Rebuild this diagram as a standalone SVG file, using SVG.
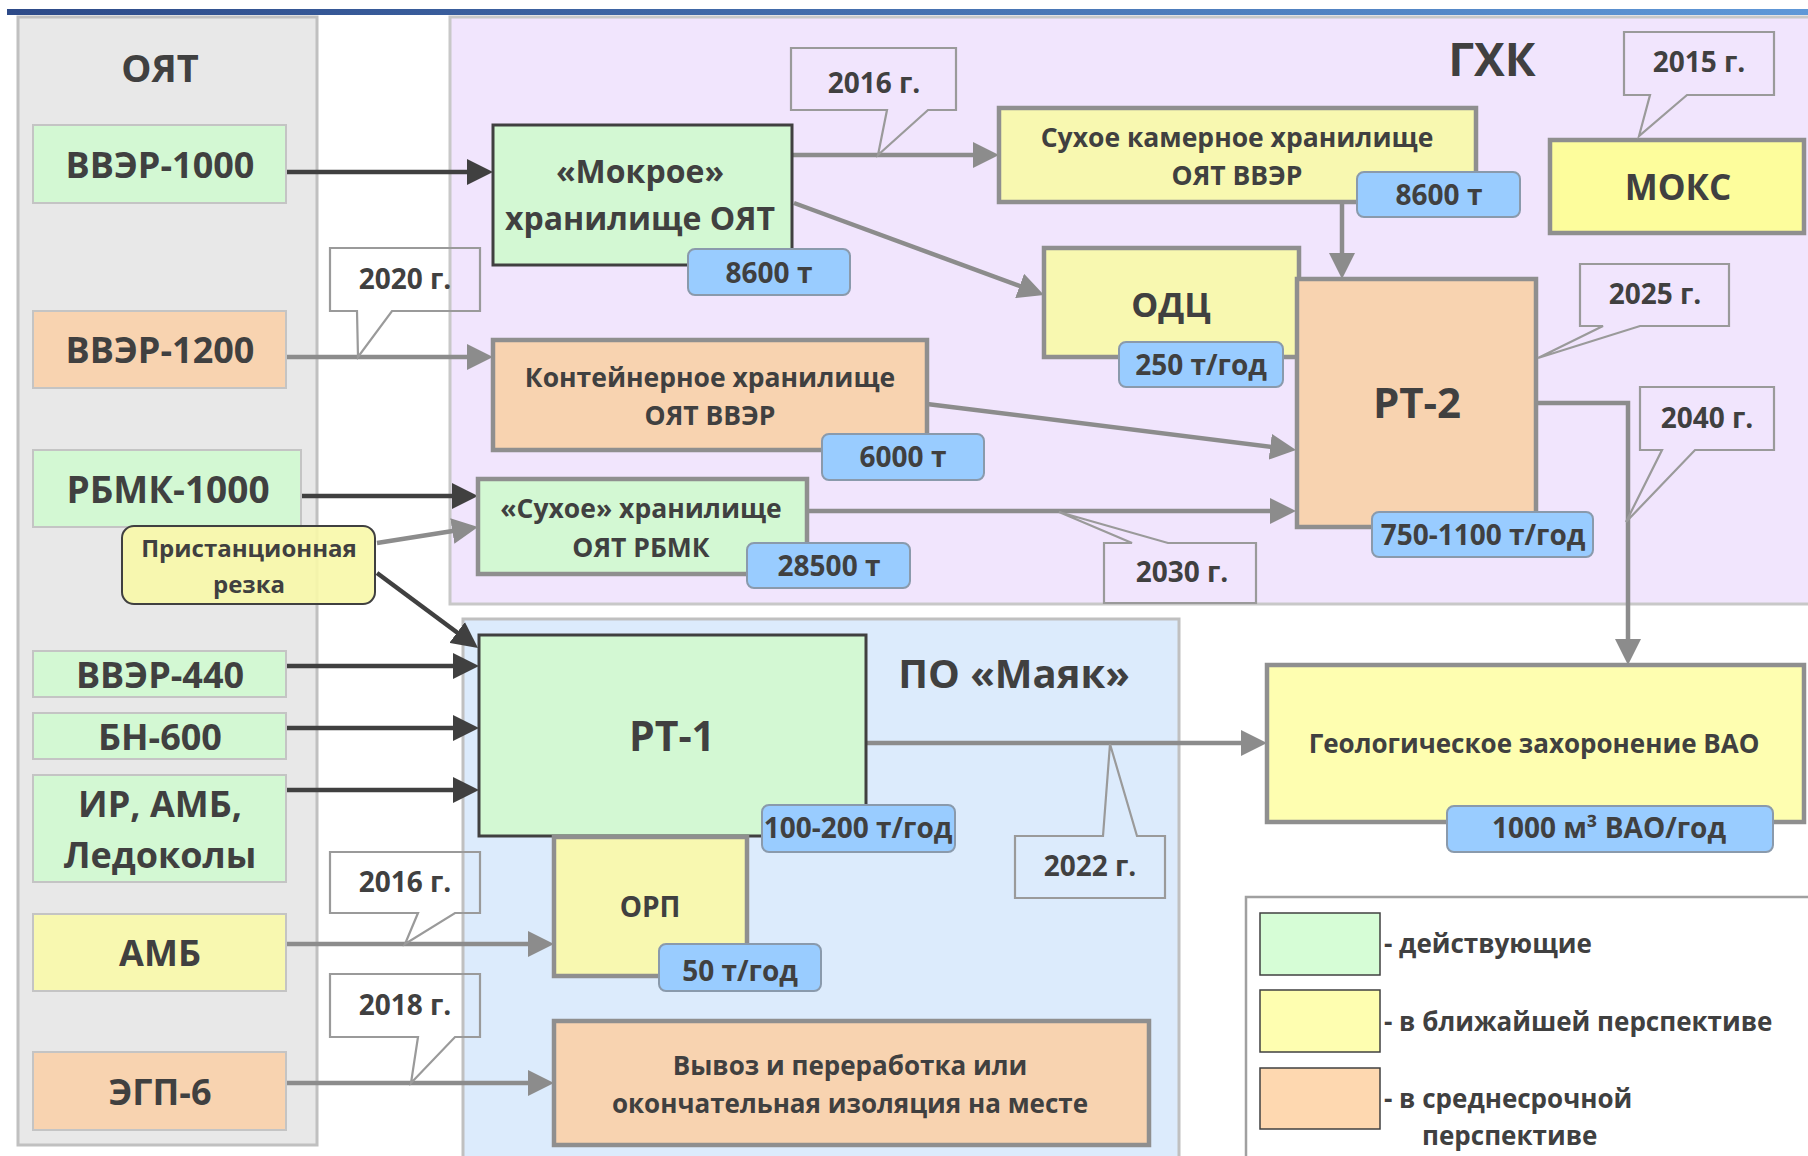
<svg xmlns="http://www.w3.org/2000/svg" width="1808" height="1156" viewBox="0 0 1808 1156">
<defs>
<linearGradient id="bar" x1="0" y1="0" x2="1" y2="0"><stop offset="0" stop-color="#2d4a88"/><stop offset="1" stop-color="#5f98d8"/></linearGradient>
<marker id="ad" markerUnits="userSpaceOnUse" markerWidth="26" markerHeight="26" refX="18" refY="13" orient="auto" viewBox="0 0 26 26"><path d="M0,0 L26,13 L0,26 z" fill="#404040"/></marker>
<marker id="ag" markerUnits="userSpaceOnUse" markerWidth="26" markerHeight="26" refX="18" refY="13" orient="auto" viewBox="0 0 26 26"><path d="M0,0 L26,13 L0,26 z" fill="#8c8c8c"/></marker>
<style>
text{font-family:"Open Sans","Noto Sans","DejaVu Sans",sans-serif;font-weight:700;fill:#404040;text-anchor:middle}
.src{stroke:#c4c4c4;stroke-width:2}
.gr{fill:#d3f8d3}.ye{fill:#f8f8b0}.pe{fill:#f8d3b0}.yb{fill:#fdfd9c}
.nd{stroke:#8f8f8f;stroke-width:4.5}
.dk{stroke:#404040;stroke-width:3}
.bd{fill:#99ccff;stroke:#8a9aac;stroke-width:2}
.cd{fill:none;stroke:#404040;stroke-width:4.5}
.cg{fill:none;stroke:#8c8c8c;stroke-width:4.5}
.co{fill:none;stroke:#9a9a9a;stroke-width:2.2}
.t36{font-size:36px}.t27{font-size:26.5px}.t26{font-size:26px}.t28{font-size:28px}
</style>
</defs>
<rect x="0" y="0" width="1808" height="1156" fill="#ffffff"/>
<rect x="7" y="9" width="1801" height="6" fill="url(#bar)"/>

<g id="panels">
<rect id="panel-oyat" x="18" y="17" width="299" height="1128" fill="#e8e8e8" stroke="#c0c0c0" stroke-width="3"/>
<text x="160" y="82" style="font-size:38px">ОЯТ</text>
<rect id="panel-ghk" x="450" y="17" width="1370" height="587" fill="#f1e5fd" stroke="#c8c8c8" stroke-width="3"/>
<text x="1492" y="76" style="font-size:46px">ГХК</text>
<rect id="panel-mayak" x="463" y="619" width="716" height="545" fill="#dcebfc" stroke="#c0c0c0" stroke-width="3"/>
<text x="1014" y="688" style="font-size:40px">ПО «Маяк»</text>
</g>

<g id="connectors">
<path class="cd" d="M286,172 H485" marker-end="url(#ad)"/>
<path class="cg" d="M286,357 H485" marker-end="url(#ag)"/>
<path class="cd" d="M301,496 H470" marker-end="url(#ad)"/>
<path class="cg" d="M377,543 L470.1,528.2" marker-end="url(#ag)"/>
<path class="cd" d="M377,573 L471.6,643.2" marker-end="url(#ad)"/>
<path class="cd" d="M286,666 H471" marker-end="url(#ad)"/>
<path class="cd" d="M286,728 H471" marker-end="url(#ad)"/>
<path class="cd" d="M286,790 H471" marker-end="url(#ad)"/>
<path class="cg" d="M286,944 H546" marker-end="url(#ag)"/>
<path class="cg" d="M286,1083 H546" marker-end="url(#ag)"/>
<path class="cg" d="M792,155 H991" marker-end="url(#ag)"/>
<path class="cg" d="M794,203 L1036.5,292.2" marker-end="url(#ag)"/>
<path class="cg" d="M1342,202 V271" marker-end="url(#ag)"/>
<path class="cg" d="M927,404 L1288.1,449" marker-end="url(#ag)"/>
<path class="cg" d="M807,511 H1288" marker-end="url(#ag)"/>
<path class="cg" d="M1536,403 H1628 V657" marker-end="url(#ag)"/>
<path class="cg" d="M866,743 H1259" marker-end="url(#ag)"/>
</g>

<g id="n-vver1000"><rect class="gr src" x="33" y="125" width="253" height="78"/><text class="t36" x="160" y="178">ВВЭР-1000</text></g>
<g id="n-vver1200"><rect class="pe src" x="33" y="311" width="253" height="77"/><text class="t36" x="160" y="363">ВВЭР-1200</text></g>
<g id="n-rbmk"><rect class="gr src" x="33" y="450" width="268" height="77"/><text x="168" y="503" style="font-size:37px">РБМК-1000</text></g>
<g id="n-rezka"><rect x="122" y="526" width="253" height="78" rx="12" fill="#f8f8a8" fill-opacity="0.9" stroke="#404040" stroke-width="2"/><text x="249" y="557" style="font-size:24px">Пристанционная</text><text x="249" y="593" style="font-size:24px">резка</text></g>
<g id="n-vver440"><rect class="gr src" x="33" y="651" width="253" height="46"/><text class="t36" x="160" y="688">ВВЭР-440</text></g>
<g id="n-bn600"><rect class="gr src" x="33" y="713" width="253" height="46"/><text class="t36" x="160" y="750">БН-600</text></g>
<g id="n-ir"><rect class="gr src" x="33" y="775" width="253" height="107"/><text class="t36" x="160" y="817">ИР, АМБ,</text><text class="t36" x="160" y="868">Ледоколы</text></g>
<g id="n-amb"><rect class="ye src" x="33" y="914" width="253" height="77"/><text class="t36" x="160" y="966">АМБ</text></g>
<g id="n-egp"><rect class="pe src" x="33" y="1052" width="253" height="78"/><text class="t36" x="160" y="1105">ЭГП-6</text></g>

<g id="n-mokroe"><rect class="gr dk" x="493" y="125" width="299" height="140"/><text x="640" y="183" style="font-size:32px">«Мокрое»</text><text x="640" y="230" style="font-size:32px">хранилище ОЯТ</text><rect class="bd" x="688" y="249" width="162" height="46" rx="7"/><text class="t28" x="769" y="283">8600 т</text></g>
<g id="n-suhoe-kam"><rect class="ye nd" x="999" y="108" width="477" height="94"/><text class="t27" x="1237" y="147">Сухое камерное хранилище</text><text class="t27" x="1237" y="185">ОЯТ ВВЭР</text><rect class="bd" x="1357" y="172" width="163" height="45" rx="7"/><text class="t28" x="1439" y="205">8600 т</text></g>
<g id="n-moks"><rect class="yb nd" x="1550" y="140" width="254" height="93"/><text x="1678" y="200" style="font-size:35px">МОКС</text></g>
<g id="n-odc"><rect class="ye nd" x="1044" y="248" width="255" height="109"/><text x="1171" y="317" style="font-size:34px">ОДЦ</text><rect class="bd" x="1119" y="342" width="164" height="45" rx="7"/><text class="t28" x="1201" y="375">250 т/год</text></g>
<g id="n-rt2"><rect class="pe nd" x="1297" y="279" width="239" height="248"/><text x="1417" y="418" style="font-size:42px">РТ-2</text><rect class="bd" x="1372" y="512" width="221" height="45" rx="7"/><text class="t28" x="1483" y="545">750-1100 т/год</text></g>
<g id="n-kont"><rect class="pe nd" x="493" y="340" width="434" height="110"/><text class="t27" x="710" y="387">Контейнерное хранилище</text><text class="t27" x="710" y="425">ОЯТ ВВЭР</text><rect class="bd" x="822" y="434" width="162" height="46" rx="7"/><text class="t28" x="903" y="467">6000 т</text></g>
<g id="n-suhoe-rbmk"><rect class="gr nd" x="478" y="479" width="329" height="95"/><text class="t27" x="641" y="518">«Сухое» хранилище</text><text class="t27" x="641" y="557">ОЯТ РБМК</text><rect class="bd" x="747" y="543" width="163" height="45" rx="7"/><text class="t28" x="829" y="576">28500 т</text></g>

<g id="n-rt1"><rect class="gr dk" x="479" y="635" width="387" height="201"/><text x="672" y="751" style="font-size:41px">РТ-1</text><rect class="bd" x="762" y="805" width="193" height="47" rx="7"/><text class="t28" x="858" y="838">100-200 т/год</text></g>
<g id="n-orp"><rect class="ye nd" x="554" y="837" width="193" height="139"/><text class="t28" x="650" y="917">ОРП</text><rect class="bd" x="659" y="944" width="162" height="47" rx="7"/><text class="t28" x="740" y="981">50 т/год</text></g>
<g id="n-vyvoz"><rect class="pe nd" x="554" y="1021" width="595" height="124"/><text class="t26" x="850" y="1075">Вывоз и переработка или</text><text class="t26" x="850" y="1113">окончательная изоляция на месте</text></g>
<g id="n-geo"><rect class="nd" x="1267" y="665" width="537" height="157" style="fill:#fefeb0"/><text class="t26" x="1534" y="753">Геологическое захоронение ВАО</text><rect class="bd" x="1447" y="806" width="326" height="46" rx="7"/><text class="t28" x="1609" y="838">1000 м³ ВАО/год</text></g>

<g id="callouts">
<path class="co" d="M791,48 H956 V110 H928 L878,155 L887,110 H791 Z"/><text class="t28" x="874" y="93">2016 г.</text>
<path class="co" d="M330,248 H480 V311 H392 L358,357 L357,311 H330 Z"/><text class="t28" x="405" y="289">2020 г.</text>
<path class="co" d="M1624,32 H1774 V95 H1687 L1639,136 L1650,95 H1624 Z"/><text class="t28" x="1699" y="72">2015 г.</text>
<path class="co" d="M1580,264 H1729 V326 H1640 L1538,358 L1603,326 H1580 Z"/><text class="t28" x="1655" y="304">2025 г.</text>
<path class="co" d="M1640,387 H1774 V450 H1695 L1626,522 L1662,450 H1640 Z"/><text class="t28" x="1707" y="428">2040 г.</text>
<path class="co" d="M1104,543 H1132 L1059,512 L1168,543 H1256 V603 H1104 Z"/><text class="t28" x="1182" y="582">2030 г.</text>
<path class="co" d="M1015,836 H1103 L1110,744 L1137,836 H1165 V898 H1015 Z"/><text class="t28" x="1090" y="876">2022 г.</text>
<path class="co" d="M330,852 H480 V913 H455 L405,944 L418,913 H330 Z"/><text class="t28" x="405" y="892">2016 г.</text>
<path class="co" d="M330,974 H480 V1037 H455 L411,1083 L418,1037 H330 Z"/><text class="t28" x="405" y="1015">2018 г.</text>
</g>

<g id="legend">
<rect x="1246" y="897" width="580" height="270" fill="#ffffff" stroke="#a0a0a0" stroke-width="2.5"/>
<rect x="1260" y="913" width="120" height="62" fill="#d6fdd6" stroke="#404040" stroke-width="1.5"/>
<rect x="1260" y="990" width="120" height="62" fill="#fefeb0" stroke="#404040" stroke-width="1.5"/>
<rect x="1260" y="1068" width="120" height="61" fill="#fed8b0" stroke="#404040" stroke-width="1.5"/>
<text class="t26" x="1384" y="953" style="text-anchor:start">- действующие</text>
<text class="t26" x="1384" y="1031" style="text-anchor:start">- в ближайшей перспективе</text>
<text class="t26" x="1384" y="1108" style="text-anchor:start">- в среднесрочной</text>
<text class="t26" x="1422" y="1145" style="text-anchor:start">перспективе</text>
</g>
</svg>
